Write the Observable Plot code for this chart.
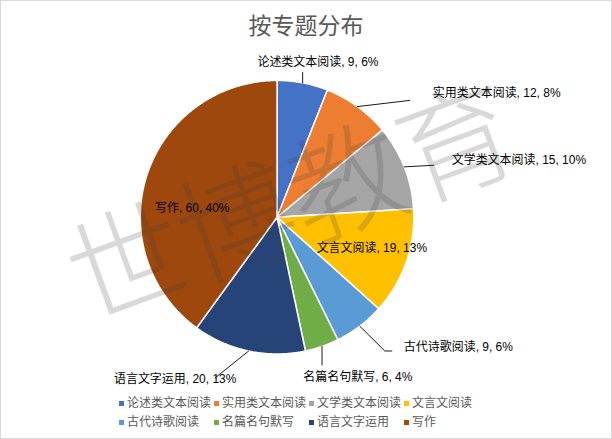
<!DOCTYPE html>
<html><head><meta charset="utf-8">
<script src="https://cdn.jsdelivr.net/npm/d3@7"></script>
<script src="https://cdn.jsdelivr.net/npm/@observablehq/plot@0.6"></script>
<style>
body{margin:0;background:#fff;}
#chart{position:relative;width:612px;height:439px;box-sizing:border-box;border:1px solid #d9d9d9;background:#fff;overflow:hidden;font-family:"Liberation Sans","Noto Sans CJK SC",sans-serif;}
#title{position:absolute;left:-1px;top:8px;width:612px;text-align:center;font-size:23px;line-height:30px;color:#595959;font-family:"Noto Sans CJK SC",sans-serif;}
#plot{position:absolute;left:-1px;top:45px;}
#legend{position:absolute;left:118px;top:393px;width:390px;display:flex;flex-wrap:wrap;font-size:12px;color:#595959;}
.item{width:95px;height:19px;line-height:19px;display:flex;align-items:center;white-space:nowrap;}
.sw{width:5px;height:5px;margin-right:3px;flex:none;}
</style>
</head><body>
<div id="chart">
  <div id="title">按专题分布</div>
  <div id="plot"></div>
  <div id="legend"></div>
</div>
<script>
// ---- data ----
const categories = ["论述类文本阅读","实用类文本阅读","文学类文本阅读","文言文阅读","古代诗歌阅读","名篇名句默写","语言文字运用","写作"];
const counts = [9, 12, 15, 19, 9, 6, 20, 60];
const colors = ["#4472C4","#ED7D31","#A5A5A5","#FFC000","#5B9BD5","#70AD47","#264478","#9E480E"];
const watermark = "世博教育";

// ---- label layout (in pie-radius units, y up, centre = 0,0) ----
const labelLayout = [
  {anchor:"middle", x:0.299,  y:1.131,  leader:[[0.187,1.058]]},
  {anchor:"start",  x:1.139,  y:0.905,  leader:[[0.971,0.854]]},
  {anchor:"start",  x:1.277,  y:0.416,  leader:[[1.146,0.380]]},
  {anchor:"middle", x:0.693,  y:-0.226, leader:null},
  {anchor:"start",  x:0.927,  y:-0.949, leader:[[0.788,-0.978],[0.839,-0.978]]},
  {anchor:"middle", x:0.591,  y:-1.168, leader:[[0.329,-1.080]]},
  {anchor:"middle", x:-0.745, y:-1.182, leader:[[-0.453,-1.175]]},
  {anchor:"middle", x:-0.620, y:0.066,  leader:null}
];

const total = d3.sum(counts);
const rows = categories.map((name, i) => ({name, value: counts[i], pct: Math.round(counts[i] / total * 100)}));
const arcs = d3.pie().sort(null).value(d => d.value)(rows);

// slice polygons
const slicePts = [];
arcs.forEach(a => {
  const name = a.data.name;
  slicePts.push({name, x: 0, y: 0});
  const n = Math.max(2, Math.ceil((a.endAngle - a.startAngle) / (Math.PI / 360)));
  for (let k = 0; k <= n; k++) {
    const t = a.startAngle + (a.endAngle - a.startAngle) * k / n;
    slicePts.push({name, x: Math.sin(t), y: Math.cos(t)});
  }
  slicePts.push({name, x: 0, y: 0});
});

// leaders
const leaderPts = [];
arcs.forEach((a, i) => {
  const L = labelLayout[i].leader;
  if (!L) return;
  const m = (a.startAngle + a.endAngle) / 2;
  leaderPts.push({name: a.data.name, x: Math.sin(m), y: Math.cos(m)});
  L.forEach(p => leaderPts.push({name: a.data.name, x: p[0], y: p[1]}));
});

const labels = rows.map((d, i) => ({
  text: `${d.name}, ${d.value}, ${d.pct}%`,
  x: labelLayout[i].x, y: labelLayout[i].y, anchor: labelLayout[i].anchor
}));

const R = 137, W = 612, H = 344, cx = 277, cy = 171;
const font = '"Liberation Sans","Noto Sans CJK SC",sans-serif';

const chart = Plot.plot({
  width: W, height: H,
  margin: 0,
  x: {domain: [-cx / R, (W - cx) / R], axis: null},
  y: {domain: [-(H - cy) / R, cy / R], axis: null},
  color: {domain: categories, range: colors},
  style: {background: "transparent", overflow: "visible"},
  marks: [
    Plot.line(slicePts, {x: "x", y: "y", z: "name", fill: "name", stroke: "white", strokeWidth: 1.5, strokeLinejoin: "round"}),
    Plot.line(leaderPts, {x: "x", y: "y", z: "name", stroke: "#000", strokeWidth: 0.9}),
    Plot.text([watermark], {x: () => 0.12, y: () => 0.07, text: d => d, rotate: -20, fontSize: 117,
      fill: "#404040", fillOpacity: 0.2, fontFamily: '"Noto Sans CJK SC",sans-serif', fontWeight: 300}),
    Plot.text(labels.filter(d => d.anchor === "middle"), {x: "x", y: "y", text: "text", textAnchor: "middle",
      fontSize: 12, fill: "#000", fontFamily: font}),
    Plot.text(labels.filter(d => d.anchor === "start"), {x: "x", y: "y", text: "text", textAnchor: "start",
      fontSize: 12, fill: "#000", fontFamily: font})
  ]
});
document.getElementById("plot").appendChild(chart);

// legend
const leg = document.getElementById("legend");
categories.forEach((c, i) => {
  const it = document.createElement("div");
  it.className = "item";
  const sw = document.createElement("span");
  sw.className = "sw";
  sw.style.background = colors[i];
  it.appendChild(sw);
  const t = document.createElement("span");
  t.textContent = c;
  it.appendChild(t);
  leg.appendChild(it);
});
</script>
</body></html>
